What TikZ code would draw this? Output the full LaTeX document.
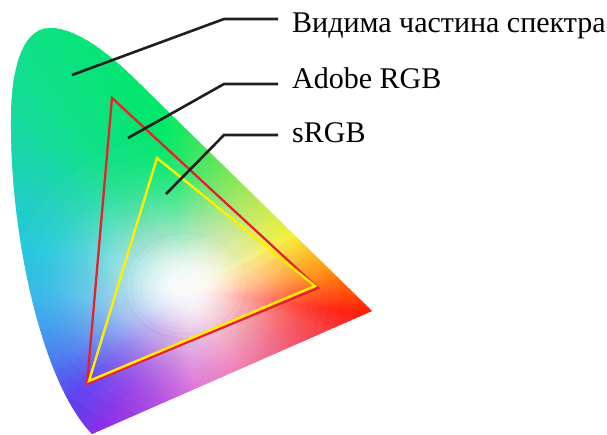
\documentclass[tikz,border=0pt]{standalone}
\usepackage{fontspec}
\setmainfont{Liberation Serif}
\definecolor{hR}{HTML}{FF1A0A}
\definecolor{hO}{HTML}{FF8A00}
\definecolor{hY}{HTML}{F8F010}
\definecolor{hYG}{HTML}{A8E838}
\definecolor{hG1}{HTML}{50E650}
\definecolor{hG}{HTML}{00E868}
\definecolor{hGT}{HTML}{10E088}
\definecolor{hT}{HTML}{20D0C0}
\definecolor{hC}{HTML}{22C8DC}
\definecolor{hSB}{HTML}{30B0EC}
\definecolor{hB}{HTML}{4080F0}
\definecolor{hBV}{HTML}{5A40F0}
\definecolor{hV}{HTML}{8A30E8}
\definecolor{hP}{HTML}{B040E0}
\definecolor{hM}{HTML}{E060D0}
\definecolor{hPk}{HTML}{F060A8}
\definecolor{hRP}{HTML}{F04870}
\definecolor{hRR}{HTML}{F83030}
\definecolor{gamRed}{HTML}{E8202A}
\definecolor{gamYel}{HTML}{FFEE00}
\begin{document}
\begin{tikzpicture}[x=1pt,y=-1pt,
  leader/.style={line width=2.6pt, color=black!88},
  lbl/.style={anchor=base west, inner sep=0pt, font=\fontsize{30}{36}\selectfont},
  gamutR/.style={draw=gamRed, line width=2.3pt, line join=miter},
  gamutY/.style={draw=gamYel, line width=2.4pt, line join=miter}]
\useasboundingbox (0,0) rectangle (607,434);
\coordinate (C) at (190,290);
\coordinate (W) at (186,286);
\begin{scope}
\clip (372,311) -- (140,84) .. controls (112,56) and (78,28) .. (50,28)
  .. controls (22,28) and (11,70) .. (11,120)
  .. controls (10,230) and (40,380) .. (92,434) -- cycle;
\foreach \aa/\bb/\ca/\cb in {-8/8/hR/hO, 8/28/hO/hY, 28/55/hY/hYG, 55/80/hYG/hG1, 80/100/hG1/hG, 100/125/hG/hGT, 125/150/hGT/hT, 150/165/hT/hC, 165/185/hC/hSB, 185/205/hSB/hB, 205/222/hB/hBV, 222/238/hBV/hV, 238/255/hV/hP, 255/275/hP/hM, 275/300/hM/hPk, 300/325/hPk/hRP, 325/345/hRP/hRR, 345/352/hRR/hR} {
  \pgfmathtruncatemacro\nn{\bb-\aa}
  \foreach \ii in {1,...,\nn} {
    \pgfmathtruncatemacro\pp{100-100*(\ii-0.5)/\nn}
    \pgfmathsetmacro\sa{\aa+\ii-1}
    \pgfmathsetmacro\ea{\aa+\ii+0.6}
    \fill[\ca!\pp!\cb] (C) -- +(\sa:420pt) -- +(\ea:420pt) -- cycle;
  }
}
% soft outer whitening
\foreach \ii in {1,...,30} {
  \pgfmathsetmacro\ww{1-0.97^\ii}
  \pgfmathsetmacro\ry{80*sqrt(ln(0.995/\ww))}
  \pgfmathsetmacro\rx{1.15*\ry}
  \fill[white, fill opacity=0.03] (W) ellipse [x radius=\rx pt, y radius=\ry pt];
}
% stronger inner whitening
\foreach \ii in {1,...,26} {
  \pgfmathsetmacro\ww{1-0.97^30*0.85^\ii}
  \pgfmathsetmacro\ry{80*sqrt(ln(0.995/\ww))}
  \pgfmathsetmacro\rx{1.15*\ry}
  \fill[white, fill opacity=0.15] (W) ellipse [x radius=\rx pt, y radius=\ry pt];
}
\end{scope}
% gamut triangles
\coordinate (r1) at (112,98);
\coordinate (r2) at (87,384);
\coordinate (r3) at (318,288);
\coordinate (y1) at (157,158);
\coordinate (y2) at (89,381);
\coordinate (y3) at (315,286);
\draw[gamutR] (r1) -- (r2) -- (r3) -- cycle;
\draw[gamutY] (y1) -- (y2) -- (y3) -- cycle;
% labels
\node[lbl] (t1) at (292,32) {Видима частина спектра};
\node[lbl] (t2) at (292,88) {Adobe RGB};
\node[lbl] (t3) at (292,142) {sRGB};
\coordinate (p1) at (72,75);  \coordinate (k1) at (224,19);  \coordinate (e1) at (278,19);
\coordinate (p2) at (128,138); \coordinate (k2) at (224,84);  \coordinate (e2) at (278,84);
\coordinate (p3) at (166,194); \coordinate (k3) at (224,135); \coordinate (e3) at (278,135);
\draw[leader] (p1) -- (k1) -- (e1);
\draw[leader] (p2) -- (k2) -- (e2);
\draw[leader] (p3) -- (k3) -- (e3);
\end{tikzpicture}
\end{document}
